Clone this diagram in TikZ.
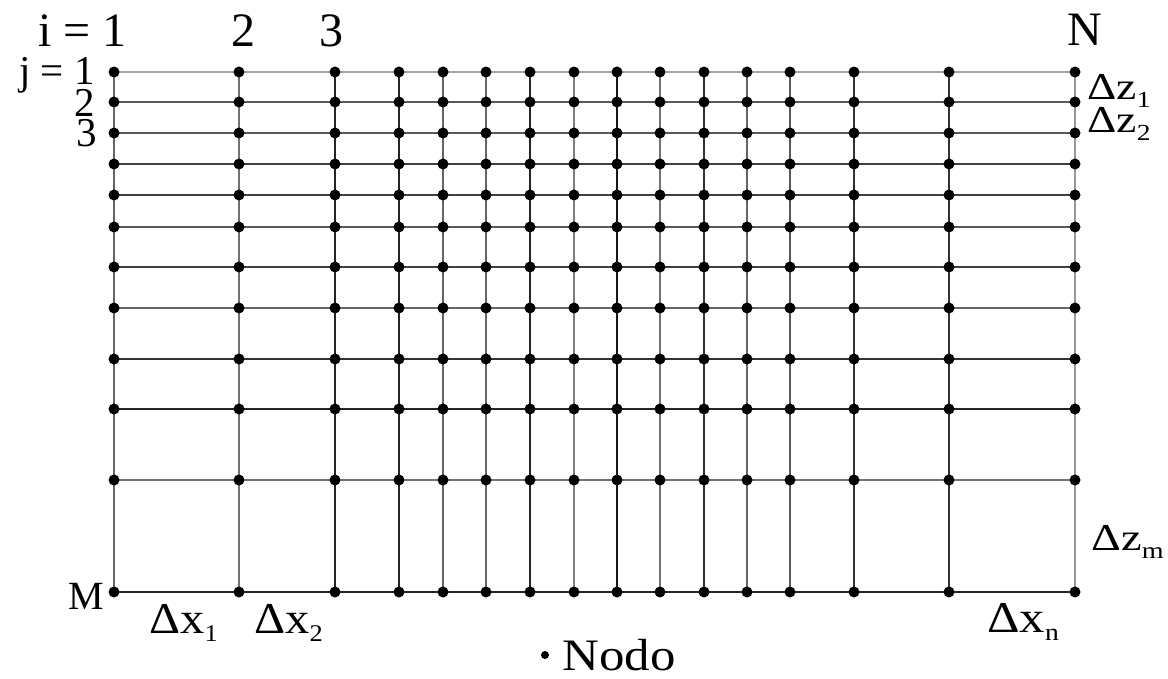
\documentclass[tikz,border=0pt]{standalone}
\usepackage{fontspec}
\setmainfont{Liberation Serif}
\usetikzlibrary{positioning}

% Delta label with a lowered index, stretched a little
\newcommand{\dlabel}[4]{\scalebox{#4}[1]{Δ#1\raisebox{-4pt}{\fontsize{#3}{#3}\selectfont #2}}}

\begin{document}
\begin{tikzpicture}[x=0.5pt, y=-0.5pt,
  nodo/.style={circle, fill=black, inner sep=0pt, minimum size=5.5pt},
  gridline/.style={line width=0.65pt},
  lbl/.style={inner sep=0pt, anchor=base},
  toplbl/.style={lbl, font=\fontsize{24}{24}\selectfont},
  rowlbl/.style={lbl, font=\fontsize{20.5}{20.5}\selectfont},
  dzlbl/.style={lbl, anchor=base west, font=\fontsize{19}{19}\selectfont},
  dxlbl/.style={lbl, anchor=base west, font=\fontsize{22}{22}\selectfont}
]
\useasboundingbox (0,0) rectangle (1168,679);

% grid points
\foreach \x [count=\i] in {114,239,335,399,443,486,530,574,617,660,704,747,790,854,949,1075} {
  \foreach \y [count=\j] in {72,102,133,164,195,227,267,308,359,409,480,592} {
    \coordinate (p-\i-\j) at (\x,\y);
  }
}

% horizontal lines
\foreach \j/\g in {1/35,2/65,3/65,4/75,5/75,6/65,7/75,8/60,9/80,10/85,11/55,12/85}
  \draw[gridline, black!\g] (p-1-\j) -- (p-16-\j);

% vertical lines
\foreach \i/\g in {1/60,2/55,3/85,4/85,5/60,6/60,7/85,8/50,9/90,10/55,11/80,12/60,13/65,14/80,15/80,16/40}
  \draw[gridline, black!\g] (p-\i-1) -- (p-\i-12);

% nodes
\foreach \i in {1,...,16}
  \foreach \j in {1,...,12}
    \node[nodo] (n-\i-\j) at (p-\i-\j) {};

% column indices
\node[toplbl, anchor=base east] (ilbl) at (127,47) {i = 1};
\node[toplbl] (i2) at (243,47) {2};
\node[toplbl] (i3) at (331,47) {3};
\node[toplbl] (iN) at (1085,46) {N};

% row indices
\node[rowlbl, anchor=base east] (jlbl) at (95,85) {j = 1};
\node[rowlbl] (j2) at (85,117) {2};
\node[rowlbl] (j3) at (87,147) {3};
\node[lbl, anchor=base east, font=\fontsize{20}{20}\selectfont] (jM) at (104,609) {M};

% spacings
\node[dzlbl] (dz1) at (1087,100) {\dlabel{z}{1}{11.5}{1.2}};
\node[dzlbl] (dz2) at (1087,133) {\dlabel{z}{2}{11.5}{1.2}};
\node[dzlbl] (dzm) at (1091,550) {\dlabel{z}{m}{11.5}{1.22}};
\node[dxlbl] (dx1) at (149,633) {\dlabel{x}{1}{12}{1.1}};
\node[dxlbl] (dx2) at (254,633) {\dlabel{x}{2}{12}{1.1}};
\node[dxlbl] (dxn) at (987,632) {\dlabel{x}{n}{12}{1.15}};

% legend
\node[nodo, minimum size=4pt] (leg) at (545,655) {};
\node[inner sep=0pt, anchor=west, font=\fontsize{22.5}{22.5}\selectfont, right=6.5pt of leg] (leglbl) {\scalebox{1.13}[1]{Nodo}};
\end{tikzpicture}
\end{document}
